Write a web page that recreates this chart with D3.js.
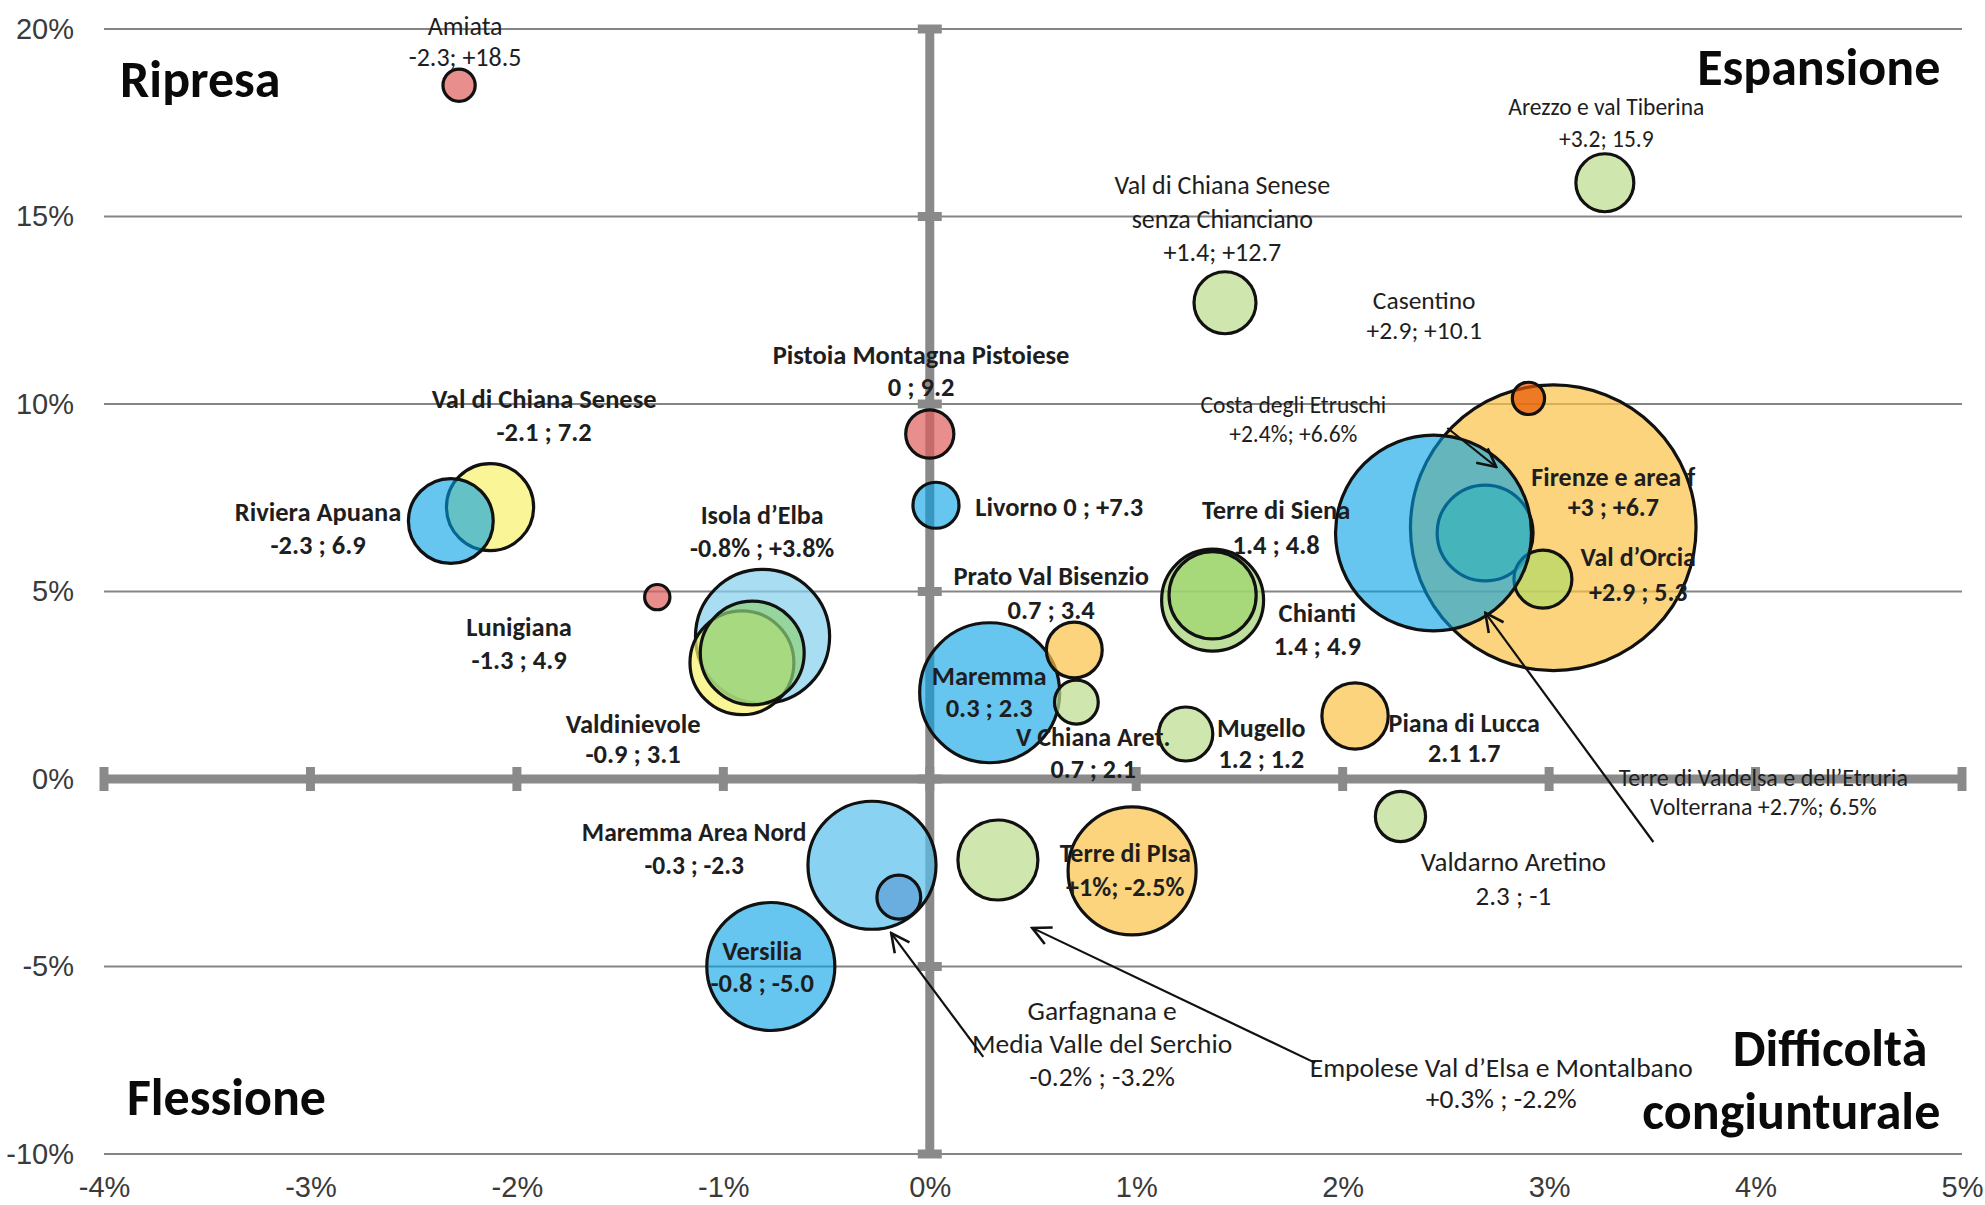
<!DOCTYPE html>
<html>
<head>
<meta charset="utf-8">
<script src="https://cdn.jsdelivr.net/npm/d3@7"></script>
<style>
body { margin: 0; background: #fff; }
svg { display: block; font-family: Carlito, "Liberation Sans Narrow", Lato, sans-serif; }
</style>
</head>
<body>
<svg id="chart" width="1985" height="1205"></svg>
<script>
// sistemi locali: var. % (asse x) , var. % (asse y), peso della bolla, gruppo colore
var names = ["Firenze e area fiorentina", "Terre di Valdelsa e dell'Etruria Volterrana", "Val d'Orcia",
  "Costa degli Etruschi", "Casentino", "Arezzo e val Tiberina", "Val di Chiana Senese senza Chianciano",
  "Amiata", "Pistoia Montagna Pistoiese", "Livorno", "Val di Chiana Senese", "Riviera Apuana",
  "Lunigiana", "Isola d'Elba", "Valdinievole", "Altro", "Maremma", "Prato Val Bisenzio",
  "V Chiana Aret.", "Terre di Siena", "Chianti", "Mugello", "Piana di Lucca", "Valdarno Aretino",
  "Maremma Area Nord", "Garfagnana e Media Valle del Serchio", "Versilia",
  "Empolese Val d'Elsa e Montalbano", "Terre di Pisa"];
var xVals = [3.02, 2.69, 2.97, 2.44, 2.9, 3.27, 1.43, -2.28, 0, 0.03, -2.13, -2.32, -1.32, -0.81, -0.91,
  -0.86, 0.29, 0.70, 0.71, 1.37, 1.37, 1.24, 2.06, 2.28, -0.28, -0.15, -0.77, 0.33, 0.98];
var yVals = [6.7, 6.56, 5.33, 6.56, 10.15, 15.9, 12.7, 18.5, 9.2, 7.3, 7.25, 6.88, 4.85, 3.8, 3.1,
  3.36, 2.3, 3.44, 2.05, 4.77, 4.9, 1.2, 1.68, -1.0, -2.3, -3.15, -5.0, -2.16, -2.45];
var pesi = [204, 23, 8.4, 96, 2.6, 8.4, 9.6, 2.6, 5.8, 5.3, 19, 18, 1.6, 45, 27, 27, 49, 7.8, 4.8,
  26, 19, 7.3, 11, 6.3, 41, 4.8, 41, 16, 41];
var gruppi = ["arancioChiaro", "verde", "verdeOliva", "azzurro", "arancio", "verdeChiaro", "verdeChiaro",
  "rosa", "rosa", "azzurro", "giallo", "azzurro", "rosa", "celeste", "giallo", "verde", "azzurro",
  "arancioChiaro", "verdeChiaro", "verdeMedio", "verdeScuro", "verdeChiaro", "arancioChiaro", "verdeChiaro",
  "celesteMedio", "bluMedio", "azzurro", "verdeChiaro", "arancioChiaro"];

var xTicks = [-4, -3, -2, -1, 0, 1, 2, 3, 4, 5];
var yTicks = [-10, -5, 0, 5, 10, 15, 20];

var colori = {
  rosa: "#de5e5b", arancio: "#e75600", arancioChiaro: "#fbc247", giallo: "#f8f16a",
  verdeChiaro: "#badd8b", verde: "#8ed27a", verdeMedio: "#a4d372", verdeScuro: "#9cd56e",
  verdeOliva: "#b3da67", azzurro: "#00a0e6", celeste: "#84ceec", celesteMedio: "#58bfec",
  bluMedio: "#5d9cd7"
};
var opacita = {azzurro: 0.6};

// etichette (posizione del centro della prima riga, in unita' del grafico)
var etichette = [
  {t: ["Amiata", "-2.3; +18.5"], x: -2.251, y: 20.08, passo: 31, size: 26, bold: false},
  {t: ["Arezzo e val Tiberina", "+3.2; 15.9"], x: 3.277, y: 17.92, passo: 32, size: 23.5, bold: false},
  {t: ["Val di Chiana Senese", "senza Chianciano", "+1.4; +12.7"], x: 1.417, y: 15.84, passo: 33.5, size: 26, bold: false},
  {t: ["Casentino", "+2.9; +10.1"], x: 2.395, y: 12.77, passo: 30, size: 25.5, bold: false},
  {t: ["Pistoia Montagna Pistoiese", "0 ; 9.2"], x: -0.042, y: 11.31, passo: 32, size: 26.5, bold: true},
  {t: ["Val di Chiana Senese", "-2.1 ; 7.2"], x: -1.868, y: 10.13, passo: 33, size: 26.5, bold: true},
  {t: ["Costa degli Etruschi", "+2.4%; +6.6%"], x: 1.761, y: 9.97, passo: 29, size: 23.5, bold: false},
  {t: ["Riviera Apuana", "-2.3 ; 6.9"], x: -2.963, y: 7.12, passo: 33, size: 26.5, bold: true},
  {t: ["Isola d\u2019Elba", "-0.8% ; +3.8%"], x: -0.812, y: 7.04, passo: 33, size: 26, bold: true},
  {t: ["Livorno 0 ; +7.3"], x: 0.22, y: 7.25, passo: 0, size: 26.5, bold: true, anchor: "start"},
  {t: ["Terre di Siena", "1.4 ; 4.8"], x: 1.678, y: 7.17, passo: 35, size: 26.5, bold: true},
  {t: ["Firenze e area f", "+3 ; +6.7"], x: 3.311, y: 8.05, passo: 30, size: 26, bold: true},
  {t: ["Val d\u2019Orcia", "+2.9 ; 5.3"], x: 3.432, y: 5.92, passo: 35, size: 26, bold: true},
  {t: ["Lunigiana", "-1.3 ; 4.9"], x: -1.989, y: 4.05, passo: 33, size: 26.5, bold: true},
  {t: ["Prato Val Bisenzio", "0.7 ; 3.4"], x: 0.588, y: 5.41, passo: 34, size: 26.5, bold: true},
  {t: ["Chianti", "1.4 ; 4.9"], x: 1.877, y: 4.43, passo: 33, size: 26.5, bold: true},
  {t: ["Maremma", "0.3 ; 2.3"], x: 0.288, y: 2.75, passo: 32, size: 26.5, bold: true},
  {t: ["Valdinievole", "-0.9 ; 3.1"], x: -1.437, y: 1.47, passo: 30, size: 26.5, bold: true},
  {t: ["V Chiana Aret.", "0.7 ; 2.1"], x: 0.792, y: 1.12, passo: 32, size: 26, bold: true},
  {t: ["Mugello", "1.2 ; 1.2"], x: 1.606, y: 1.36, passo: 31, size: 26, bold: true},
  {t: ["Piana di Lucca", "2.1 1.7"], x: 2.589, y: 1.49, passo: 30, size: 26, bold: true},
  {t: ["Terre di Valdelsa e dell\u2019Etruria", "Volterrana +2.7%; 6.5%"], x: 4.038, y: 0.05, passo: 29, size: 24, bold: false},
  {t: ["Maremma Area Nord", "-0.3 ; -2.3"], x: -1.141, y: -1.41, passo: 33, size: 25.5, bold: true},
  {t: ["Terre di PIsa", "+1%; -2.5%"], x: 0.947, y: -1.97, passo: 34, size: 26, bold: true},
  {t: ["Valdarno Aretino", "2.3 ; -1"], x: 2.827, y: -2.21, passo: 34, size: 27, bold: false},
  {t: ["Versilia", "-0.8 ; -5.0"], x: -0.812, y: -4.59, passo: 32, size: 26.5, bold: true},
  {t: ["Garfagnana e", "Media Valle del Serchio", "-0.2% ; -3.2%"], x: 0.835, y: -6.16, passo: 33, size: 27.5, bold: false},
  {t: ["Empolese Val d\u2019Elsa e Montalbano", "+0.3% ; -2.2%"], x: 2.768, y: -7.68, passo: 31, size: 27.5, bold: false}
];

var quadranti = [
  {t: "Ripresa", x: -3.922, y: 18.19, anchor: "start"},
  {t: "Espansione", x: 4.895, y: 18.51, anchor: "end"},
  {t: "Flessione", x: -3.889, y: -8.95, anchor: "start"},
  {t: "Difficolt\u00e0", x: 4.832, y: -7.65, anchor: "end"},
  {t: "congiunturale", x: 4.895, y: -9.33, anchor: "end"}
];

var frecce = [
  {da: [2.507, 9.36], a: [2.744, 8.32]},
  {da: [3.505, -1.68], a: [2.691, 4.43]},
  {da: [0.259, -7.41], a: [-0.187, -4.11]},
  {da: [1.867, -7.57], a: [0.496, -3.97]}
];

var svg = d3.select("#chart");

var x = d3.scaleLinear().domain([-4, 5]).range([104, 1962]),
    y = d3.scaleLinear().domain([-10, 20]).range([1154, 29]),
    r = d3.scaleSqrt().domain([0, 200]).range([0, 141.4]);

// griglia orizzontale
svg.append("g").selectAll("line")
  .data(yTicks)
  .enter().append("line")
  .attr("x1", x(-4)).attr("x2", x(5))
  .attr("y1", function(d) { return y(d); })
  .attr("y2", function(d) { return y(d); })
  .attr("stroke", "#858585")
  .attr("stroke-width", 2);

// etichette assi
var yAxis = svg.append("g")
  .attr("transform", "translate(" + x(-4) + ",0)")
  .call(d3.axisLeft(y).tickValues(yTicks).tickSize(0).tickPadding(30).tickFormat(function(d) { return d + "%"; }));
var xAxis = svg.append("g")
  .attr("transform", "translate(0," + y(-10) + ")")
  .call(d3.axisBottom(x).tickValues(xTicks).tickSize(0).tickPadding(22).tickFormat(function(d) { return d + "%"; }));
[yAxis, xAxis].forEach(function(a) {
  a.select(".domain").remove();
  a.selectAll("text").attr("font-size", 29).attr("fill", "#3a3a3a").attr("font-family", null);
});

// assi spessi con tacche
var assi = svg.append("g").attr("stroke", "#8a8a8a").attr("stroke-width", 9);
assi.append("line").attr("x1", x(-4)).attr("x2", x(5)).attr("y1", y(0)).attr("y2", y(0));
assi.append("line").attr("x1", x(0)).attr("x2", x(0)).attr("y1", y(20)).attr("y2", y(-10));
assi.selectAll(".tx").data(xTicks).enter().append("line")
  .attr("x1", function(d) { return x(d); }).attr("x2", function(d) { return x(d); })
  .attr("y1", y(0) - 12).attr("y2", y(0) + 12);
assi.selectAll(".ty").data(yTicks).enter().append("line")
  .attr("x1", x(0) - 12).attr("x2", x(0) + 12)
  .attr("y1", function(d) { return y(d); }).attr("y2", function(d) { return y(d); });

// bolle
svg.append("g").selectAll("circle")
  .data(d3.range(names.length))
  .enter().append("circle")
  .attr("cx", function(i) { return x(xVals[i]); })
  .attr("cy", function(i) { return y(yVals[i]); })
  .attr("r", function(i) { return r(pesi[i]); })
  .attr("fill", function(i) { return colori[gruppi[i]]; })
  .attr("fill-opacity", function(i) { return opacita[gruppi[i]] || 0.7; })
  .attr("stroke", "#111")
  .attr("stroke-width", 3.2)
  .append("title").text(function(i) { return names[i]; });

// etichette bolle
var lab = svg.append("g").attr("fill", "#1e1e1e");
etichette.forEach(function(e) {
  var t = lab.append("text")
    .attr("text-anchor", e.anchor || "middle")
    .attr("font-size", e.size)
    .attr("font-weight", e.bold ? "bold" : 500);
  e.t.forEach(function(riga, k) {
    t.append("tspan")
      .attr("x", x(e.x))
      .attr("y", y(e.y) + k * e.passo)
      .attr("dy", "0.35em")
      .text(riga);
  });
});

// frecce
svg.append("defs").append("marker")
  .attr("id", "punta")
  .attr("viewBox", "0 0 12 12")
  .attr("refX", 11).attr("refY", 6)
  .attr("markerWidth", 22).attr("markerHeight", 22)
  .attr("markerUnits", "userSpaceOnUse")
  .attr("orient", "auto")
  .append("path")
  .attr("d", "M1,1 L11,6 L1,11")
  .attr("fill", "none")
  .attr("stroke", "#111")
  .attr("stroke-width", 1.4);

svg.append("g").selectAll("line")
  .data(frecce)
  .enter().append("line")
  .attr("x1", function(d) { return x(d.da[0]); })
  .attr("y1", function(d) { return y(d.da[1]); })
  .attr("x2", function(d) { return x(d.a[0]); })
  .attr("y2", function(d) { return y(d.a[1]); })
  .attr("stroke", "#111")
  .attr("stroke-width", 2.2)
  .attr("marker-end", "url(#punta)");

// quadranti
svg.append("g").selectAll("text")
  .data(quadranti)
  .enter().append("text")
  .attr("x", function(d) { return x(d.x); })
  .attr("y", function(d) { return y(d.y); })
  .attr("text-anchor", function(d) { return d.anchor; })
  .attr("font-size", 52)
  .attr("font-weight", "bold")
  .attr("fill", "#0a0a0a")
  .text(function(d) { return d.t; });
</script>
</body>
</html>
